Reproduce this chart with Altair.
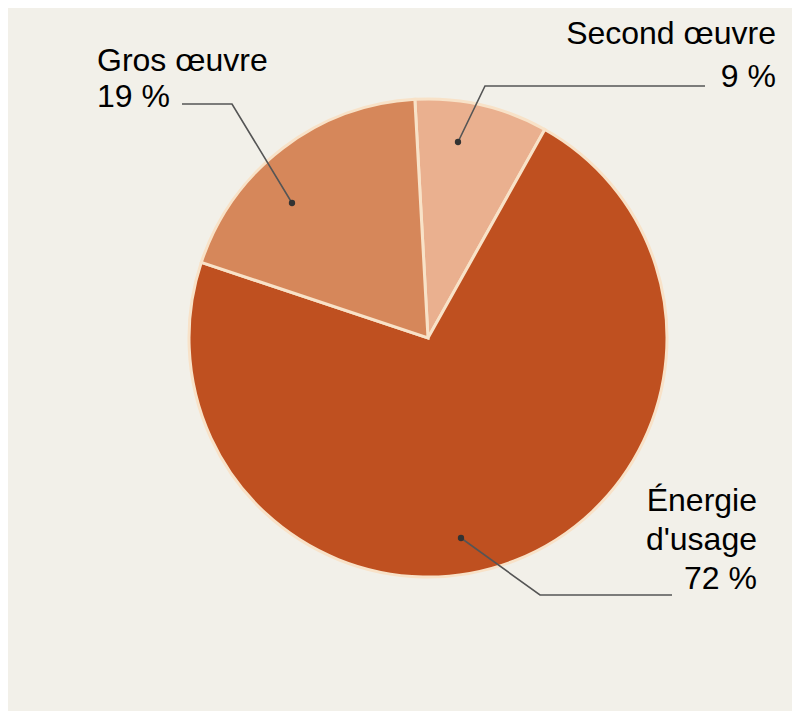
import altair as alt
import pandas as pd

categories = ["Second œuvre", "Énergie d'usage", "Gros œuvre"]
shares = [9, 72, 19]
order = [0, 1, 2]
colors = ["#eab08f", "#bf5020", "#d6875a"]

label_second = ["Second œuvre", "9 %"]
label_energie = ["Énergie", "d'usage", "72 %"]
label_gros = ["Gros œuvre", "19 %"]

W, H = 784, 703
CX, CY, R = 420, 330, 239

pie_df = pd.DataFrame({"cat": categories, "share": shares, "order": order})

arcs = alt.Chart(pie_df).mark_arc(
    radius=R, stroke="#f8e2c8", strokeWidth=3
).encode(
    theta=alt.Theta("share:Q", stack=True, scale=alt.Scale(range=[-0.055, 6.2282])),
    color=alt.Color("cat:N", scale=alt.Scale(domain=categories, range=colors), legend=None),
    order=alt.Order("order:Q"),
    x=alt.value(CX), y=alt.value(CY),
)

# leader lines (annotation geometry, in pixels)
lead = pd.DataFrame({
    "g": ["s", "s", "s", "e", "e", "e", "g", "g", "g"],
    "i": [0, 1, 2, 0, 1, 2, 0, 1, 2],
    "px": [450, 477, 697, 453, 532, 664, 284, 224, 174],
    "py": [134, 78, 78, 530, 587, 587, 195, 96, 96],
})
lines = alt.Chart(lead).mark_line(color="#555555", strokeWidth=1.6).encode(
    x=alt.X("px:Q", scale=None), y=alt.Y("py:Q", scale=None),
    detail="g:N", order="i:Q",
)
dots = alt.Chart(lead[lead["i"] == 0]).mark_circle(color="#333333", size=40, opacity=1).encode(
    x=alt.X("px:Q", scale=None), y=alt.Y("py:Q", scale=None),
)

font = dict(font="Liberation Sans", fontSize=32, color="#000000", baseline="top")


def label(lines_, px, py, align, lh):
    df = pd.DataFrame({"t": [lines_], "px": [px], "py": [py]})
    return alt.Chart(df).mark_text(align=align, lineHeight=lh, **font).encode(
        x=alt.X("px:Q", scale=None), y=alt.Y("py:Q", scale=None), text="t"
    )


t_second = label(label_second, 768, 11, "right", 43)
t_energie = label(label_energie, 749, 478, "right", 39)
t_gros = label(label_gros, 89, 38, "left", 36)

chart = alt.layer(arcs, lines, dots, t_second, t_energie, t_gros).properties(
    width=W, height=H, background="#f2f0e9",
    autosize=alt.AutoSizeParams(type="none"), padding=0,
).configure_view(stroke=None)

chart.save("out.html", embed_options={"renderer": "svg", "actions": False})
